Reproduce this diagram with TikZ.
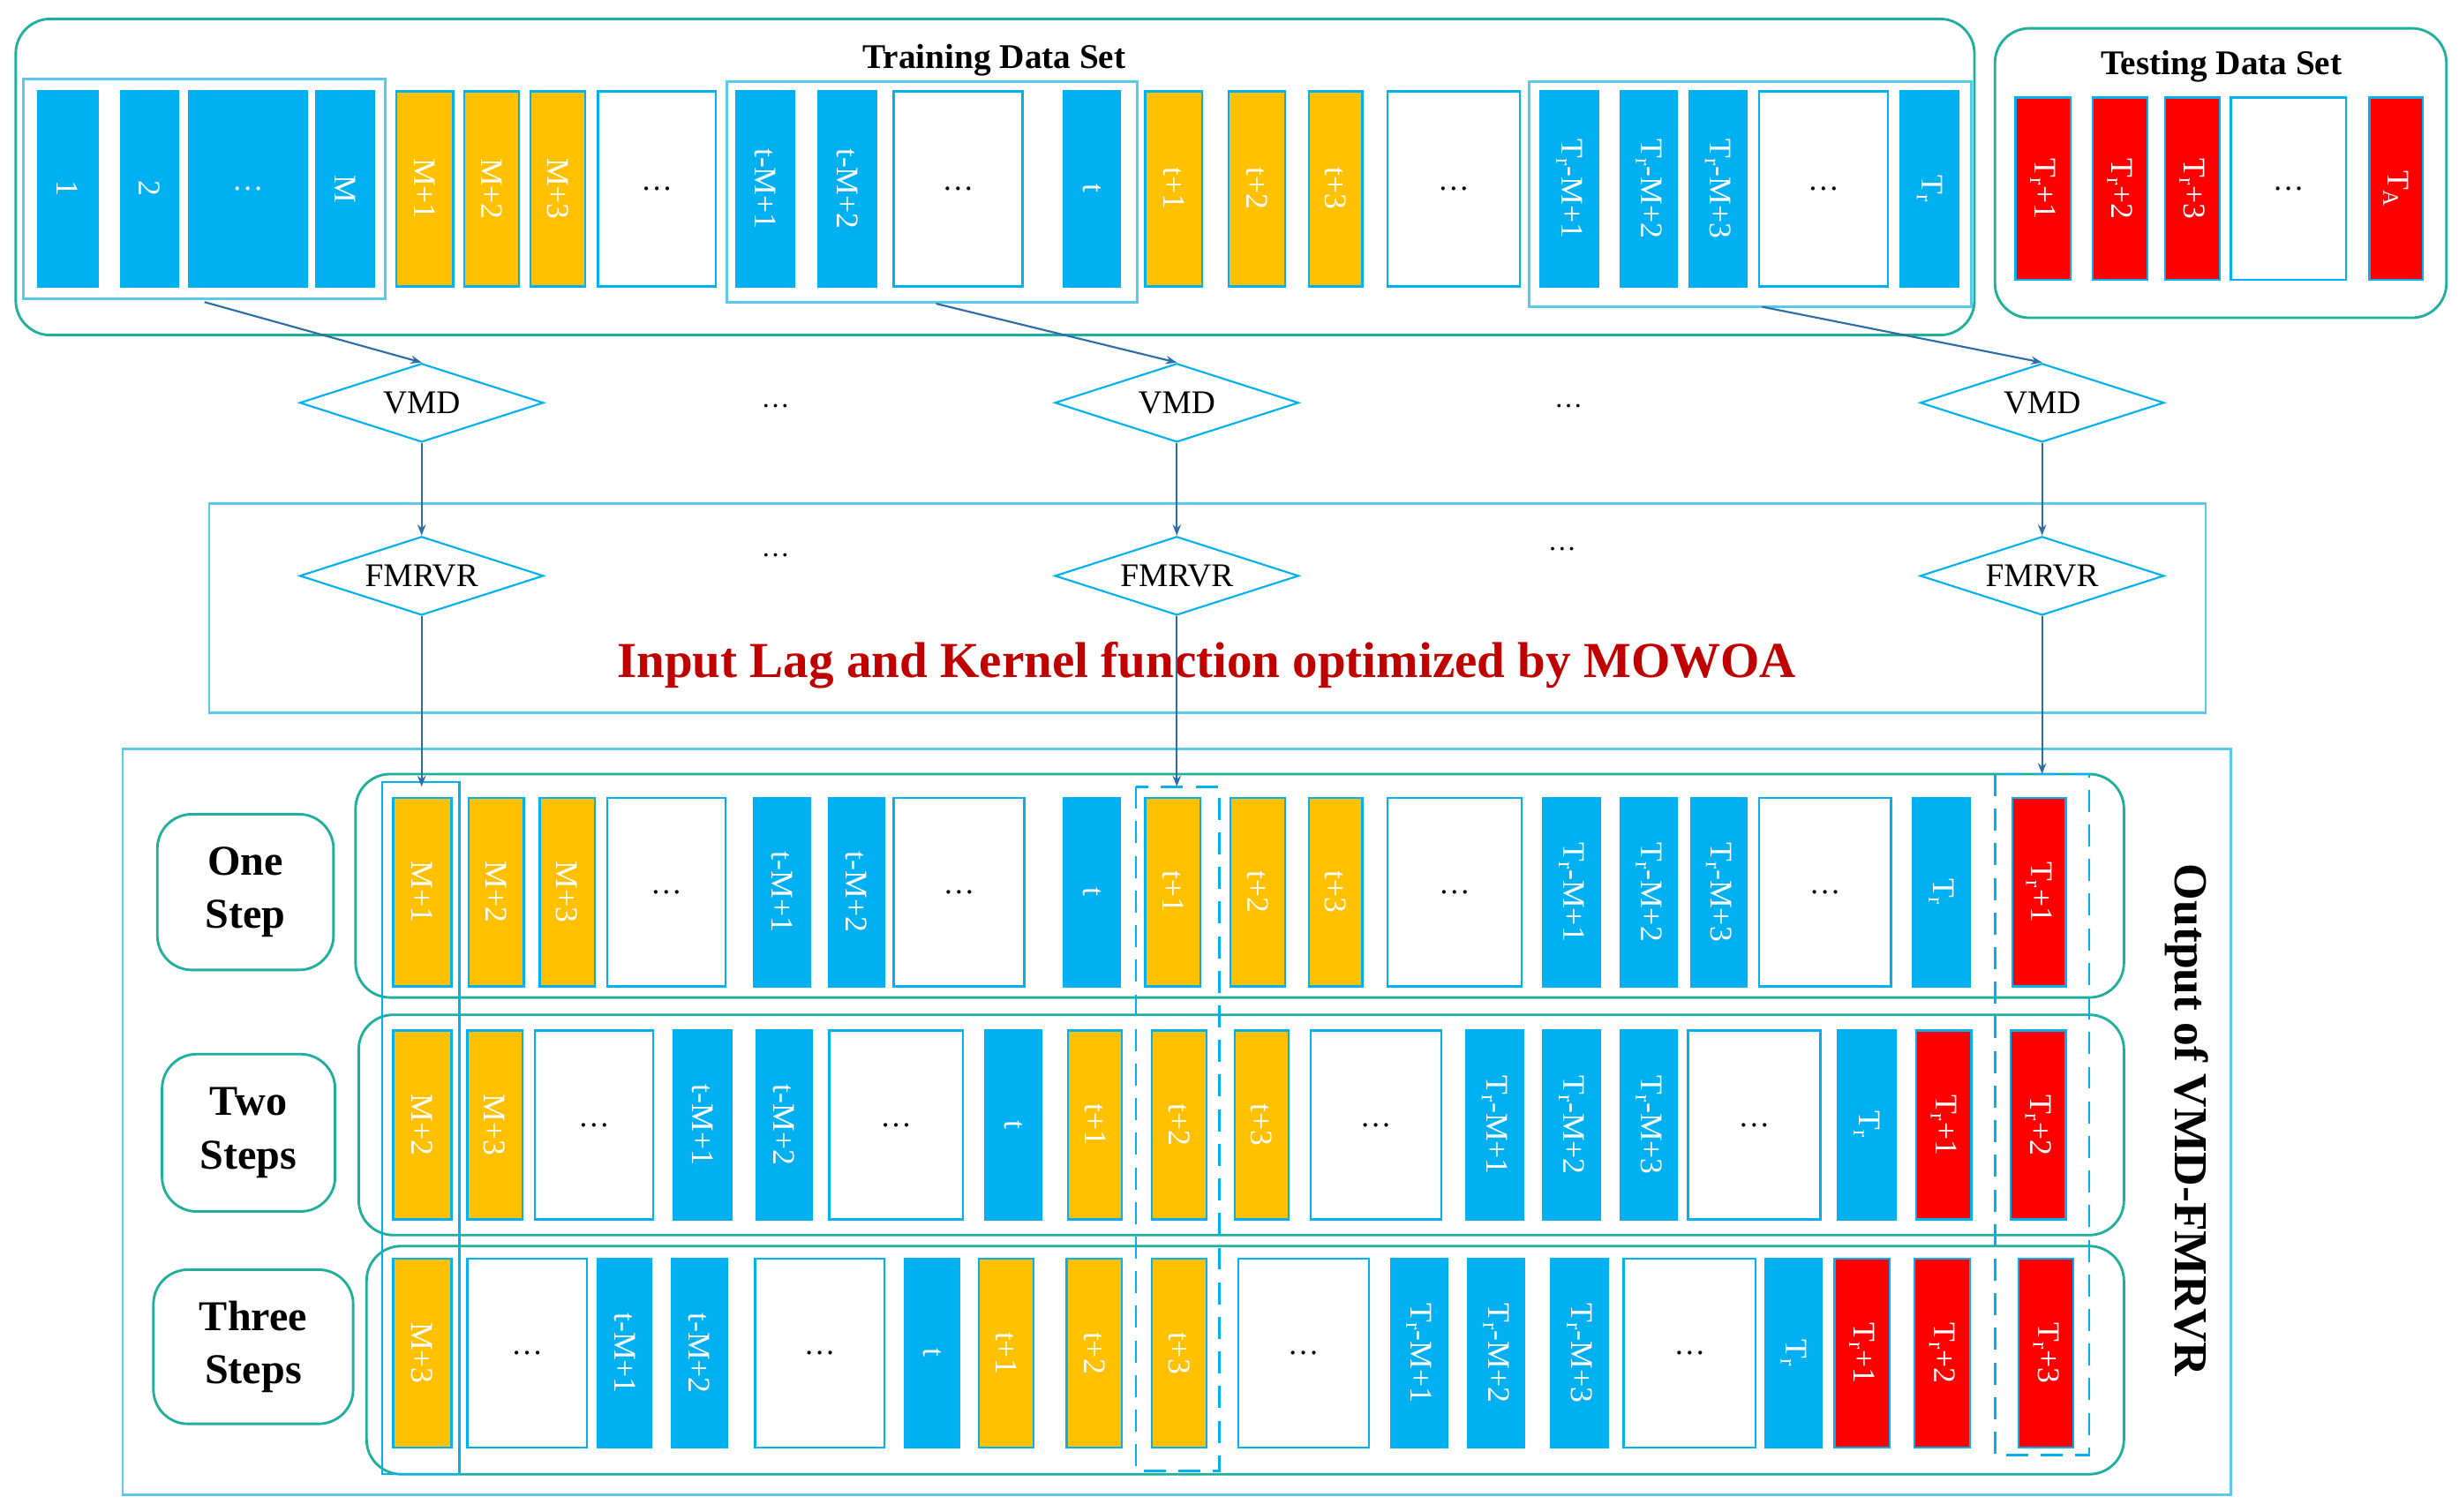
\documentclass[tikz,border=0pt]{standalone}
\usepackage{fontspec}
\setmainfont{Liberation Serif}
\usetikzlibrary{shapes.geometric,arrows.meta}
\definecolor{cb}{HTML}{00B0F0}
\definecolor{co}{HTML}{FFC000}
\definecolor{cr}{HTML}{FF0000}
\definecolor{ct}{HTML}{1FAF9A}
\definecolor{cl}{HTML}{5BC8EE}
\definecolor{cd}{HTML}{C00000}
\definecolor{ca}{HTML}{2E6DA4}
\newcommand{\hd}{\rotatebox{90}{\dots}}
\begin{document}
\begin{tikzpicture}[x=1pt,y=-1pt,
 B/.style={fill=cb,draw=cb,text=white},
 O/.style={fill=co,draw=cb,text=white},
 R/.style={fill=cr,draw=cb,text=white},
 W/.style={fill=white,draw=cb,line width=1.5pt,text=black},
 grp/.style={draw=ct,line width=1.6pt,rounded corners=22pt},
 lbl/.style={draw=ct,line width=1.6pt,rounded corners=22pt,align=center,font=\fontsize{27}{34}\selectfont\bfseries},
 dia/.style={diamond,draw=cb,line width=1.2pt,aspect=3.1,inner sep=1pt,minimum width=155pt,minimum height=50pt,font=\fontsize{21}{22}\selectfont,fill=white},
 arr/.style={ca,line width=1.2pt,-{Stealth[length=7pt]}},
 frm/.style={draw=cl,line width=1.6pt},
 dots/.style={font=\fontsize{18}{20}\selectfont}]
\useasboundingbox (0,0) rectangle (1563,961);
\newcommand{\barrow}[4]{%
 \foreach \a/\b/\s/\t [count=\i] in {#4} {
  \node[\s,rotate=-90,inner sep=0pt,outer sep=0pt,line width=1.3pt,
        minimum width={(#3-#2)*1pt},minimum height={(\b-\a)*1pt},
        font=\fontsize{20}{22}\selectfont] (#1\i) at ({(\a+\b)/2},{(#2+#3)/2}) {\t};
 }}
\draw[grp] (10,12) rectangle (1255,213);
\node[font=\fontsize{22}{24}\selectfont\bfseries] (trt) at (632,38) {Training Data Set};
\draw[grp] (1268,18) rectangle (1555,202);
\node[font=\fontsize{22}{24}\selectfont\bfseries] (tst) at (1412,42) {Testing Data Set};
\draw[frm] (15,50) rectangle (245,190);
\draw[frm] (462,52) rectangle (723,192);
\draw[frm] (972,52) rectangle (1253,195);
\barrow{a}{58}{182}{24/62/B/1,77/113/B/2,120/195/B/\hd,201/238/B/M,252/288/O/M+1,295/330/O/M+2,337/372/O/M+3,380/455/W/\hd,468/505/B/t-M+1,520/557/B/t-M+2,568/650/W/\hd,676/712/B/t,728/764/O/t+1,781/817/O/t+2,832/866/O/t+3,882/966/W/\hd,979/1016/B/T\textsubscript{r}-M+1,1030/1066/B/T\textsubscript{r}-M+2,1074/1110/B/T\textsubscript{r}-M+3,1118/1200/W/\hd,1208/1245/B/T\textsubscript{r}}
\barrow{b}{62}{178}{1281/1316/R/T\textsubscript{r}+1,1330/1365/R/T\textsubscript{r}+2,1376/1411/R/T\textsubscript{r}+3,1418/1491/W/\hd,1506/1540/R/T\textsubscript{A}}
\draw[frm] (133,320) rectangle (1402,453);
\node[dia] (v1) at (268,256) {VMD};
\node[dia] (v2) at (748,256) {VMD};
\node[dia] (v3) at (1298,256) {VMD};
\node[dia] (f1) at (268,366) {FMRVR};
\node[dia] (f2) at (748,366) {FMRVR};
\node[dia] (f3) at (1298,366) {FMRVR};
\node[dots] (d1) at (493,258) {\dots};
\node[dots] (d2) at (997,258) {\dots};
\node[dots] (d3) at (493,353) {\dots};
\node[dots] (d4) at (993,349) {\dots};
\node[text=cd,font=\fontsize{32}{34}\selectfont\bfseries] (opt) at (767,423) {Input Lag and Kernel function optimized by MOWOA};
\coordinate (s1) at (130,192); \coordinate (s2) at (595,193); \coordinate (s3) at (1120,195);
\draw[arr] (s1) -- (v1.north);
\draw[arr] (s2) -- (v2.north);
\draw[arr] (s3) -- (v3.north);
\draw[arr] (v1.south) -- (f1.north);
\draw[arr] (v2.south) -- (f2.north);
\draw[arr] (v3.south) -- (f3.north);
\draw[frm] (78,476) rectangle (1418,950);
\node[rotate=-90,font=\fontsize{30}{32}\selectfont\bfseries] (out) at (1390,712) {Output of VMD-FMRVR};
\draw[grp] (226,492) rectangle (1350,634);
\draw[grp] (228,645) rectangle (1350,785);
\draw[grp] (233,792) rectangle (1350,937);
\node[lbl,minimum width=112pt,minimum height=99pt] (l1) at (156,567) {One\\Step};
\node[lbl,minimum width=110pt,minimum height=100pt] (l2) at (158,720) {Two\\Steps};
\node[lbl,minimum width=127pt,minimum height=98pt] (l3) at (161,856) {Three\\Steps};
\draw[cb,line width=1.2pt] (243,497) rectangle (292,937);
\draw[cb,line width=1.5pt,dash pattern=on 14pt off 8pt] (722,500) rectangle (775,935);
\draw[cb,line width=1.5pt,dash pattern=on 14pt off 8pt] (1268,492) rectangle (1328,925);
\barrow{p}{507}{627}{250/287/O/M+1,298/333/O/M+2,343/378/O/M+3,386/461/W/\hd,479/515/B/t-M+1,527/562/B/t-M+2,568/651/W/\hd,676/712/B/t,728/763/O/t+1,782/817/O/t+2,832/866/O/t+3,882/967/W/\hd,981/1017/B/T\textsubscript{r}-M+1,1030/1066/B/T\textsubscript{r}-M+2,1075/1110/B/T\textsubscript{r}-M+3,1118/1202/W/\hd,1216/1252/B/T\textsubscript{r},1279/1313/R/T\textsubscript{r}+1}
\barrow{q}{655}{775}{250/287/O/M+2,297/332/O/M+3,340/415/W/\hd,428/465/B/t-M+1,481/516/B/t-M+2,527/612/W/\hd,626/662/B/t,679/713/O/t+1,732/767/O/t+2,785/819/O/t+3,833/916/W/\hd,932/968/B/T\textsubscript{r}-M+1,981/1017/B/T\textsubscript{r}-M+2,1030/1066/B/T\textsubscript{r}-M+3,1073/1157/W/\hd,1168/1205/B/T\textsubscript{r},1218/1253/R/T\textsubscript{r}+1,1278/1313/R/T\textsubscript{r}+2}
\barrow{s}{800}{920}{250/287/O/M+3,297/373/W/\hd,380/414/B/t-M+1,427/462/B/t-M+2,480/562/W/\hd,575/610/B/t,622/657/O/t+1,678/713/O/t+2,732/767/O/t+3,787/870/W/\hd,884/920/B/T\textsubscript{r}-M+1,933/969/B/T\textsubscript{r}-M+2,986/1022/B/T\textsubscript{r}-M+3,1032/1116/W/\hd,1122/1158/B/T\textsubscript{r},1166/1201/R/T\textsubscript{r}+1,1217/1252/R/T\textsubscript{r}+2,1283/1318/R/T\textsubscript{r}+3}
\coordinate (e1) at (268,500); \coordinate (e2) at (748,500); \coordinate (e3) at (1298,492);
\draw[arr] (f1.south) -- (e1);
\draw[arr] (f2.south) -- (e2);
\draw[arr] (f3.south) -- (e3);
\end{tikzpicture}
\end{document}
